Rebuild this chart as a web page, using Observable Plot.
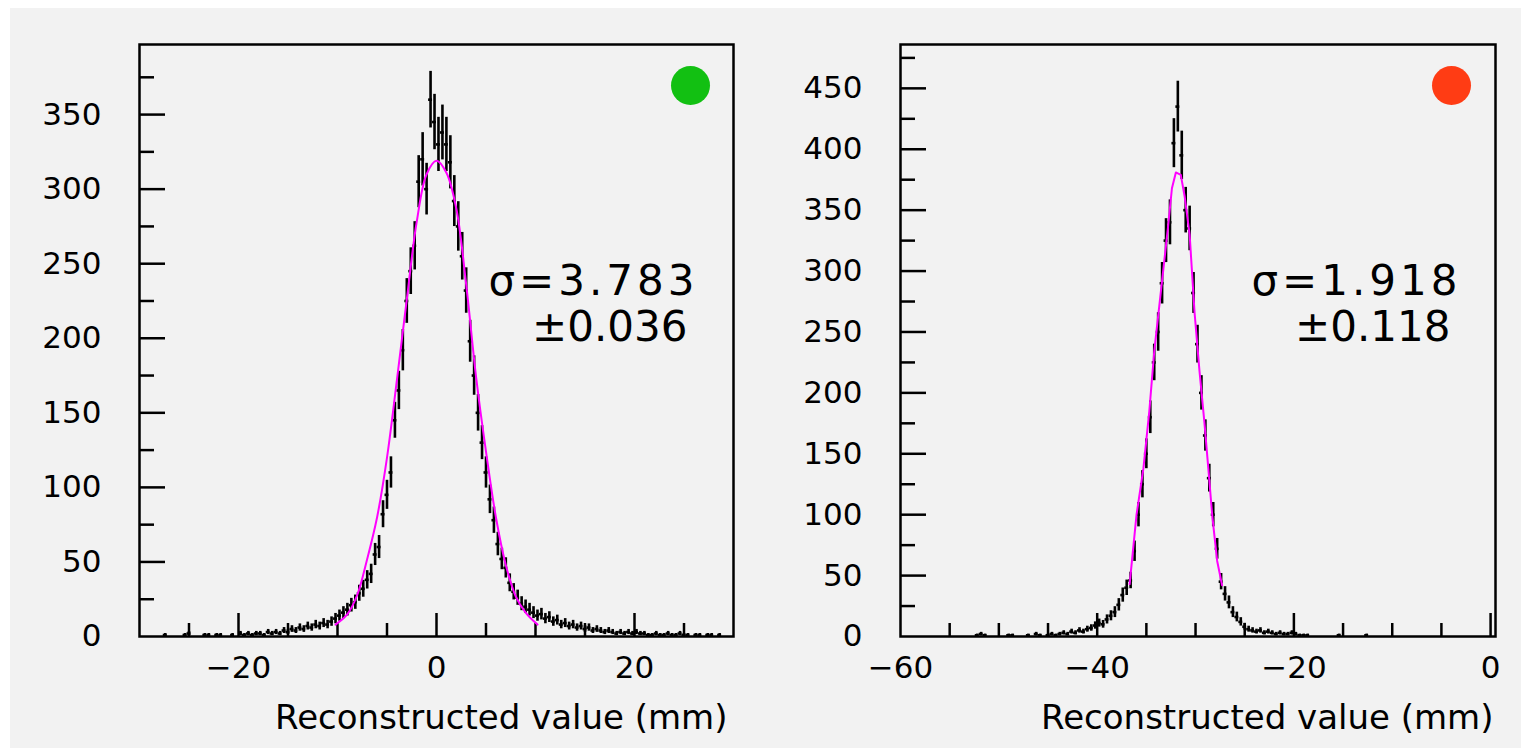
<!DOCTYPE html>
<html>
<head>
<meta charset="utf-8">
<script src="https://cdn.jsdelivr.net/npm/d3@7"></script>
<script src="https://cdn.jsdelivr.net/npm/@observablehq/plot@0.6"></script>
<style>
html, body { margin: 0; padding: 0; background: #ffffff; }
#wrap { position: relative; width: 1530px; height: 756px; overflow: hidden; background: #ffffff; }
#bg { position: absolute; left: 10px; top: 8px; width: 1511px; height: 740px; background: #f2f2f2; }
.panel { position: absolute; top: 0; }
#left { left: 0px; }
#right { left: 765px; }
</style>
</head>
<body>
<div id="wrap"><div id="bg"></div><div id="left" class="panel"></div><div id="right" class="panel"></div></div>
<script>
// ---------------- data ----------------
// Left histogram: 150 bins of 0.4 mm from -30 to 30
const leftBinStart = -30;
const leftBinWidth = 0.4;
const leftCounts = [
  0, 0, 0, 0, 0, 0, 1, 0, 0, 0,
  0, 1, 2, 0, 0, 0, 1, 1, 0, 1,
  1, 0, 0, 1, 0, 2, 1, 2, 1, 2,
  2, 1, 3, 2, 3, 2, 4, 3, 5, 4,
  6, 5, 7, 6, 8, 7, 9, 8, 10, 12,
  14, 16, 18, 21, 23, 29, 32, 38, 42, 55,
  60, 82, 95, 110, 145, 165, 192, 225, 245, 262,
  305, 320, 300, 360, 345, 330, 338, 330, 318, 292,
  275, 255, 232, 198, 175, 150, 130, 110, 92, 78,
  62, 52, 46, 36, 30, 26, 22, 20, 18, 16,
  14, 15, 12, 13, 10, 11, 8, 9, 7, 8,
  6, 7, 5, 6, 4, 5, 4, 3, 4, 3,
  2, 3, 2, 3, 2, 3, 2, 2, 1, 1,
  2, 1, 1, 2, 1, 1, 2, 1, 1, 0,
  1, 1, 0, 1, 1, 0, 1, 0, 0, 0
];
// Right histogram: 150 bins of 0.4 mm from -60 to 0
const rightBinStart = -60;
const rightBinWidth = 0.4;
const rightCounts = [
  0, 0, 0, 0, 0, 0, 0, 0, 0, 0,
  0, 0, 0, 0, 0, 0, 0, 0, 0, 1,
  2, 1, 0, 0, 0, 0, 0, 1, 1, 0,
  0, 0, 1, 0, 2, 1, 0, 1, 2, 1,
  2, 3, 2, 4, 3, 5, 4, 6, 7, 9,
  11, 10, 14, 17, 20, 26, 34, 40, 46, 70,
  100, 125, 150, 180, 225, 250, 290, 325, 340, 405,
  435, 395, 350, 335, 282, 240, 200, 165, 130, 100,
  72, 45, 35, 28, 20, 16, 12, 8, 6, 5,
  4, 5, 3, 4, 3, 2, 3, 2, 2, 3,
  2, 1, 1, 1, 0, 0, 0, 0, 0, 0,
  0, 1, 0, 0, 0, 0, 0, 0, 1, 0,
  0, 0, 0, 0, 0, 0, 0, 0, 0, 0,
  0, 0, 0, 0, 0, 0, 0, 0, 0, 0,
  0, 0, 0, 0, 0, 0, 0, 0, 0, 0
];
// Gaussian fit curves as drawn
const leftFitX = [-10.2, -9, -8, -7, -6, -5, -4, -3, -2, -1, 0, 1, 2, 3, 4, 5, 6, 7, 8, 9, 10.2];
const leftFitY = [8, 15, 28, 52, 80, 120, 172, 226, 278, 310, 319, 311, 287, 236, 174, 124, 80, 48, 27, 16, 8];
const rightFitX = [-36.7, -36.0, -35.3, -34.7, -34.2, -33.5, -32.8, -32.4, -32.0, -31.5, -31.1, -30.6, -30.1, -29.6, -29.1, -28.7, -28.3, -27.8, -27.3];
const rightFitY = [43, 100, 138, 185, 234, 285, 336, 368, 381, 379, 361, 330, 266, 218, 176, 138, 99, 62, 42];
// Axes
const leftXDomain = [-30, 30];
const leftYDomain = [0, 397];
const leftXLabels = [-20, 0, 20];
const leftXMinor = [-25, -15, -10, -5, 5, 10, 15, 25];
const leftYLabels = [0, 50, 100, 150, 200, 250, 300, 350];
const leftYMajor = [50, 100, 150, 200, 250, 300, 350];
const leftYMinor = [25, 75, 125, 175, 225, 275, 325, 375];
const rightXDomain = [-60, 0.5];
const rightYDomain = [0, 486];
const rightXLabels = [-60, -40, -20, 0];
const rightXMajor = [-40, -20, 0];
const rightXMinor = [-55, -50, -45, -35, -30, -25, -15, -10, -5];
const rightYLabels = [0, 50, 100, 150, 200, 250, 300, 350, 400, 450];
const rightYMajor = [50, 100, 150, 200, 250, 300, 350, 400, 450];
const rightYMinor = [25, 75, 125, 175, 225, 275, 325, 375, 425, 475];
// Texts
const axisTitle = "Reconstructed value (mm)";
const leftSigma = ["σ=3.783", "±0.036"];
const rightSigma = ["σ=1.918", "±0.118"];
const leftDot = "#12c012";
const rightDot = "#ff3c14";

// ---------------- drawing ----------------
const W = 765, H = 756, MT = 44, MB = 120;
const FONT = "'DejaVu Sans', sans-serif";

function panel(o) {
  const innerW = W - o.ml - o.mr;
  const innerH = H - MT - MB;
  const bins = o.counts.map((v, i) => ({
    x: o.start + (i + 0.5) * o.bw,
    x1: o.start + i * o.bw,
    x2: o.start + (i + 1) * o.bw,
    y: v,
    e: Math.sqrt(v)
  })).filter(d => d.y > 0);
  const fit = o.fitX.map((x, i) => ({x, y: o.fitY[i]}));
  const svg = Plot.plot({
    width: W, height: H,
    marginLeft: o.ml, marginRight: o.mr, marginTop: MT, marginBottom: MB,
    style: {background: "transparent", color: "black", fontFamily: FONT, overflow: "visible"},
    x: {domain: o.xDomain},
    y: {domain: o.yDomain},
    marks: [
      // ticks inside the frame
      Plot.tickY(o.yMajor, {y: d => d, insetRight: innerW - 26, stroke: "black", strokeWidth: 2.5}),
      Plot.tickY(o.yMinor, {y: d => d, insetRight: innerW - 15, stroke: "black", strokeWidth: 2.5}),
      Plot.tickX(o.xMajor, {x: d => d, insetTop: innerH - 23, stroke: "black", strokeWidth: 2.5}),
      Plot.tickX(o.xMinor, {x: d => d, insetTop: innerH - 13, stroke: "black", strokeWidth: 2.5}),
      // labels
      Plot.axisY({ticks: o.yLabels, tickSize: 0, tickPadding: 38, fontSize: 31, label: null, tickFormat: d => String(d)}),
      Plot.axisX({ticks: o.xLabels, tickSize: 0, tickPadding: 19, fontSize: 31, label: null}),
      // histogram with error bars
      Plot.ruleX(bins, {x: "x", y1: d => d.y - d.e, y2: d => d.y + d.e, stroke: "black", strokeWidth: 2.6}),
      Plot.ruleY(bins, {y: "y", x1: "x1", x2: "x2", stroke: "black", strokeWidth: 2.6}),
      // fit
      Plot.line(fit, {x: "x", y: "y", stroke: "#ff00ff", strokeWidth: 2, curve: o.curve}),
      // frame
      Plot.frame({stroke: "black", strokeWidth: 2.5}),
      // annotations
      Plot.dot([o.dot], {frameAnchor: "top-right", dx: o.dotDx, dy: 41, r: 19.5, fill: d => d, stroke: "none"}),
      Plot.text([o.sigma[0]], {frameAnchor: "top-right", text: d => d, dx: o.s1dx, dy: 237, textAnchor: "end", lineAnchor: "middle", fontSize: 42, fill: "black"}),
      Plot.text([o.sigma[1]], {frameAnchor: "top-right", text: d => d, dx: o.s2dx, dy: 283, textAnchor: "end", lineAnchor: "middle", fontSize: 42, fill: "black"}),
      Plot.text([axisTitle], {frameAnchor: "bottom-right", text: d => d, dx: o.tdx, dy: 82, textAnchor: "end", lineAnchor: "middle", fontSize: 34, fill: "black"})
    ]
  });
  d3.select(svg).selectAll("text")
    .filter(function() { return this.textContent === o.sigma[0]; })
    .attr("letter-spacing", "4px");
  return svg;
}

document.getElementById("left").appendChild(panel({
  ml: 139, mr: 32,
  counts: leftCounts, start: leftBinStart, bw: leftBinWidth,
  fitX: leftFitX, fitY: leftFitY, curve: "catmull-rom",
  xDomain: leftXDomain, yDomain: leftYDomain,
  xLabels: leftXLabels, xMajor: leftXLabels, xMinor: leftXMinor,
  yLabels: leftYLabels, yMajor: leftYMajor, yMinor: leftYMinor,
  dot: leftDot, dotDx: -43, sigma: leftSigma, s1dx: -35, s2dx: -46, tdx: -6
}));
document.getElementById("right").appendChild(panel({
  ml: 135, mr: 35,
  counts: rightCounts, start: rightBinStart, bw: rightBinWidth,
  fitX: rightFitX, fitY: rightFitY, curve: "linear",
  xDomain: rightXDomain, yDomain: rightYDomain,
  xLabels: rightXLabels, xMajor: rightXMajor, xMinor: rightXMinor,
  yLabels: rightYLabels, yMajor: rightYMajor, yMinor: rightYMinor,
  dot: rightDot, dotDx: -44, sigma: rightSigma, s1dx: -34, s2dx: -45, tdx: -2
}));
</script>
</body>
</html>
